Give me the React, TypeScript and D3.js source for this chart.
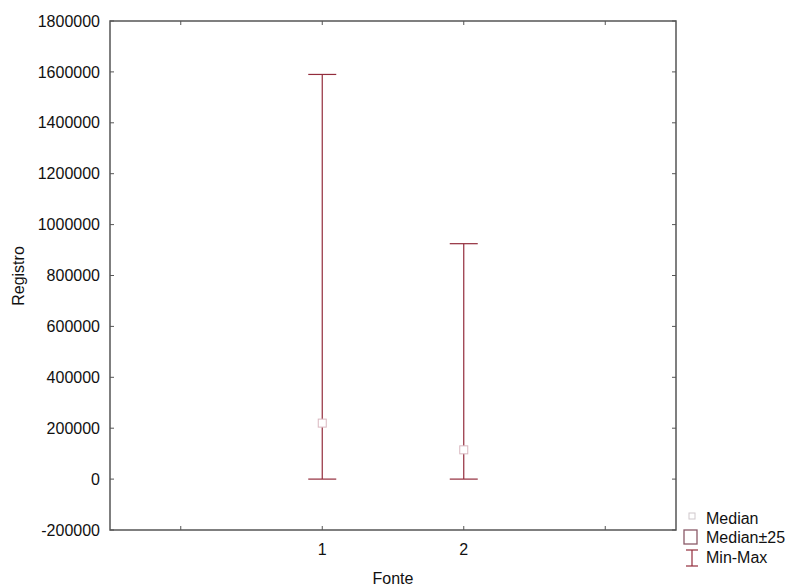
import React from "react";
import * as d3 from "d3";

const categories = ["1", "2"];
const catPositions = [1, 2];
const maxValues = [1590000, 925000];
const minValues = [0, 0];
const medianValues = [220000, 115000];
const yTicks = [-200000, 0, 200000, 400000, 600000, 800000, 1000000, 1200000, 1400000, 1600000, 1800000];
const xTickPositions = [0, 1, 2, 3];
const legendLabels = ["Median", "Median\u00b125", "Min-Max"];

const W = 787;
const H = 587;
const left = 110;
const right = 676;
const top = 21;
const bottom = 530;
const font = "'Liberation Sans', Arial, Helvetica, sans-serif";
const fs = 16;
const lineColor = "#932c3c";
const axisColor = "#555";

export default function App() {
  const x = d3.scaleLinear().domain([-0.5, 3.5]).range([left, right]);
  const y = d3.scaleLinear().domain([-200000, 1800000]).range([bottom, top]);
  const capHalf = 14;
  const tickLen = 4;
  return (
    <div style={{ position: "absolute", left: 0, top: 0 }}>
      <svg width={W} height={H} style={{ display: "block", background: "#fff" }}>
        <rect x={left} y={top} width={right - left} height={bottom - top} fill="none" stroke={axisColor} strokeWidth={1.5} />
        {yTicks.map((t) => (
          <g key={"y" + t}>
            <line x1={left} x2={left + tickLen} y1={y(t)} y2={y(t)} stroke={axisColor} strokeWidth={1} />
            <line x1={right} x2={right - tickLen} y1={y(t)} y2={y(t)} stroke={axisColor} strokeWidth={1} />
            <text x={left - 10} y={y(t)} dy="0.35em" textAnchor="end" fontFamily={font} fontSize={fs} fill="#111">
              {t}
            </text>
          </g>
        ))}
        {xTickPositions.map((p) => (
          <g key={"x" + p}>
            <line x1={x(p)} x2={x(p)} y1={bottom} y2={bottom - tickLen} stroke={axisColor} strokeWidth={1} />
            <line x1={x(p)} x2={x(p)} y1={top} y2={top + tickLen} stroke={axisColor} strokeWidth={1} />
          </g>
        ))}
        {categories.map((c, i) => (
          <text key={"xl" + c} x={x(catPositions[i])} y={555} textAnchor="middle" fontFamily={font} fontSize={fs} fill="#111">
            {c}
          </text>
        ))}
        <text x={(left + right) / 2} y={584} textAnchor="middle" fontFamily={font} fontSize={fs} fill="#111">
          Fonte
        </text>
        <text transform={`translate(24,276) rotate(-90)`} textAnchor="middle" fontFamily={font} fontSize={fs} fill="#111">
          Registro
        </text>
        {categories.map((c, i) => {
          const cx = x(catPositions[i]);
          return (
            <g key={"w" + c}>
              <line x1={cx} x2={cx} y1={y(maxValues[i])} y2={y(minValues[i])} stroke={lineColor} strokeWidth={1.2} />
              <line x1={cx - capHalf} x2={cx + capHalf} y1={y(maxValues[i])} y2={y(maxValues[i])} stroke={lineColor} strokeWidth={1.2} />
              <line x1={cx - capHalf} x2={cx + capHalf} y1={y(minValues[i])} y2={y(minValues[i])} stroke={lineColor} strokeWidth={1.2} />
              <rect x={cx - 4} y={y(medianValues[i]) - 4} width={8} height={8} fill="#fff" stroke="#d9b8c0" strokeWidth={1} />
            </g>
          );
        })}
        <rect x={689} y={513} width={6} height={6} fill="#fff" stroke="#cfc8cc" strokeWidth={1} />
        <text x={706} y={524} fontFamily={font} fontSize={fs} fill="#111">{legendLabels[0]}</text>
        <rect x={684} y={530} width={13} height={14} fill="#fff" stroke="#8a5a68" strokeWidth={1.3} />
        <text x={706} y={543} fontFamily={font} fontSize={fs} fill="#111">{legendLabels[1]}</text>
        <line x1={692} x2={692} y1={550} y2={566} stroke={lineColor} strokeWidth={1.2} />
        <line x1={686} x2={698} y1={550} y2={550} stroke={lineColor} strokeWidth={1.2} />
        <line x1={686} x2={698} y1={566} y2={566} stroke={lineColor} strokeWidth={1.2} />
        <text x={706} y={563} fontFamily={font} fontSize={fs} fill="#111">{legendLabels[2]}</text>
      </svg>
    </div>
  );
}
